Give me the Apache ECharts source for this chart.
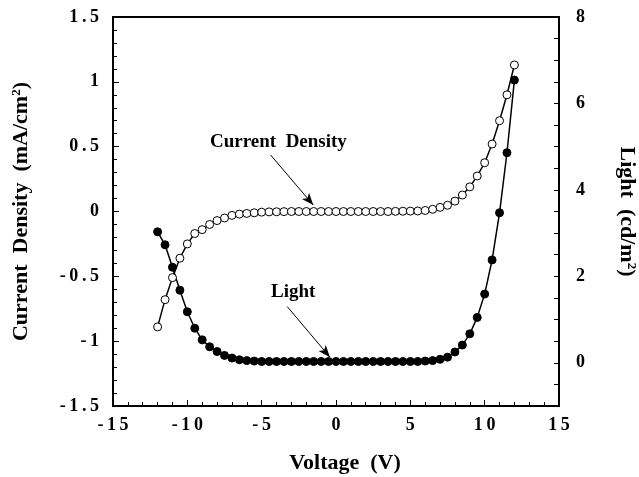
<!DOCTYPE html>
<html>
<head>
<meta charset="utf-8">
<script src="https://cdn.jsdelivr.net/npm/echarts@6/dist/echarts.min.js"></script>
<style>html,body{margin:0;padding:0;background:#fff;}#c{width:639px;height:477px;}</style>
</head>
<body>
<div id="c"></div>
<script>
var voltage = [-12,-11.5,-11,-10.5,-10,-9.5,-9,-8.5,-8,-7.5,-7,-6.5,-6,-5.5,-5,-4.5,-4,-3.5,-3,-2.5,-2,-1.5,-1,-0.5,0,0.5,1,1.5,2,2.5,3,3.5,4,4.5,5,5.5,6,6.5,7,7.5,8,8.5,9,9.5,10,10.5,11,11.5,12];
var currentDensity = [-0.89,-0.68,-0.51,-0.36,-0.25,-0.17,-0.14,-0.10,-0.07,-0.05,-0.03,-0.02,-0.015,-0.01,-0.005,-0.003,-0.002,-0.001,0,0,0,0,0,0,0,0,0,0,0,0,0,0,0.001,0.002,0.003,0.004,0.008,0.017,0.032,0.048,0.08,0.127,0.19,0.274,0.376,0.52,0.70,0.90,1.13];
var light = [3.03,2.73,2.21,1.68,1.18,0.80,0.53,0.37,0.26,0.17,0.11,0.07,0.05,0.04,0.03,0.03,0.03,0.03,0.03,0.03,0.03,0.03,0.03,0.03,0.03,0.03,0.03,0.03,0.03,0.03,0.03,0.03,0.03,0.03,0.03,0.03,0.04,0.05,0.08,0.13,0.25,0.41,0.67,1.05,1.59,2.38,3.47,4.86,6.54];
var lightTickLabels = [0,2,4,6,8];

var FONT = '"Liberation Serif","Times New Roman",serif';
function spaced(v){ return String(v).split('').join('\u2009'); }
function pairs(ys){ return voltage.map(function(x,i){ return [x, ys[i]]; }); }

var chart = echarts.init(document.getElementById('c'), null, {renderer:'canvas'});
chart.setOption({
  backgroundColor:'#ffffff',
  animation:false,
  grid:{left:113, right:80, top:17, bottom:71, show:true, borderColor:'#000', borderWidth:2, backgroundColor:'transparent', outerBoundsMode:'none', containLabel:false},
  xAxis:{
    type:'value', min:-15, max:15, interval:5,
    name:'Voltage  (V)', nameLocation:'middle', nameGap:46,
    nameTextStyle:{fontFamily:FONT, fontWeight:'bold', fontSize:22, color:'#000', padding:[0,0,0,18]},
    axisLine:{show:true, onZero:false, lineStyle:{color:'#000', width:2}},
    axisTick:{show:true, inside:true, length:6, lineStyle:{color:'#000', width:1}},
    minorTick:{show:true, splitNumber:5, length:4, lineStyle:{color:'#000', width:1}},
    splitLine:{show:false},
    axisLabel:{fontFamily:FONT, fontWeight:'bold', fontSize:18, color:'#000', margin:10, formatter:function(v){return spaced(v);}}
  },
  yAxis:[{
    type:'value', min:-1.5, max:1.5, interval:0.5, position:'left',
    name:'Current  Density  (mA/cm{sup|2})', nameLocation:'middle', nameGap:80, nameRotate:90,
    nameTextStyle:{fontFamily:FONT, fontWeight:'bold', fontSize:22, color:'#000',
      rich:{sup:{fontFamily:FONT, fontWeight:'bold', fontSize:13, color:'#000', verticalAlign:'top', padding:[0,0,10,0]}}},
    axisLine:{show:true, onZero:false, lineStyle:{color:'#000', width:2}},
    axisTick:{show:true, inside:true, length:6, lineStyle:{color:'#000', width:1}},
    minorTick:{show:true, splitNumber:5, length:4, lineStyle:{color:'#000', width:1}},
    splitLine:{show:false},
    axisLabel:{fontFamily:FONT, fontWeight:'bold', fontSize:18, color:'#000', margin:14, formatter:function(v){return spaced(v);}}
  },{
    type:'value', min:-1, max:8, interval:0.5, position:'right',
    name:'Light  (cd/m{sup|2})', nameLocation:'middle', nameGap:56, nameRotate:-90,
    nameTextStyle:{fontFamily:FONT, fontWeight:'bold', fontSize:22, color:'#000',
      rich:{sup:{fontFamily:FONT, fontWeight:'bold', fontSize:13, color:'#000', verticalAlign:'top', padding:[0,0,10,0]}}},
    axisLine:{show:true, onZero:false, lineStyle:{color:'#000', width:2}},
    axisTick:{show:true, inside:true, length:5, lineStyle:{color:'#000', width:1}},
    splitLine:{show:false},
    axisLabel:{fontFamily:FONT, fontWeight:'bold', fontSize:18, color:'#000', margin:17,
      formatter:function(v){ return lightTickLabels.indexOf(v) >= 0 ? String(v) : ''; }}
  }],
  series:[{
    name:'Light', type:'line', yAxisIndex:1, data:pairs(light),
    symbol:'circle', symbolSize:8, showSymbol:true,
    lineStyle:{color:'#000', width:1.5},
    itemStyle:{color:'#000', borderColor:'#000', borderWidth:1},
    markLine:{silent:true, symbol:['none','arrow'], symbolSize:[7,12],
      lineStyle:{color:'#000', width:1, type:'solid'}, label:{show:false},
      data:[[{coord:[-3.28,1.30]},{coord:[-0.41,0.13]}]]}
  },{
    name:'Current Density', type:'line', yAxisIndex:0, data:pairs(currentDensity),
    symbol:'circle', symbolSize:8, showSymbol:true,
    lineStyle:{color:'#000', width:1.5},
    itemStyle:{color:'#fff', borderColor:'#000', borderWidth:1},
    markLine:{silent:true, symbol:['none','arrow'], symbolSize:[7,12],
      lineStyle:{color:'#000', width:1, type:'solid'}, label:{show:false},
      data:[[{coord:[-4.4,0.436]},{coord:[-1.53,0.05]}]]}
  }],
  graphic:[
    {type:'text', left:210, top:133, style:{text:'Current  Density', fontFamily:FONT, fontWeight:'bold', fontSize:19, fill:'#000'}},
    {type:'text', left:271, top:283, style:{text:'Light', fontFamily:FONT, fontWeight:'bold', fontSize:19, fill:'#000'}}
  ]
});
</script>
</body>
</html>
